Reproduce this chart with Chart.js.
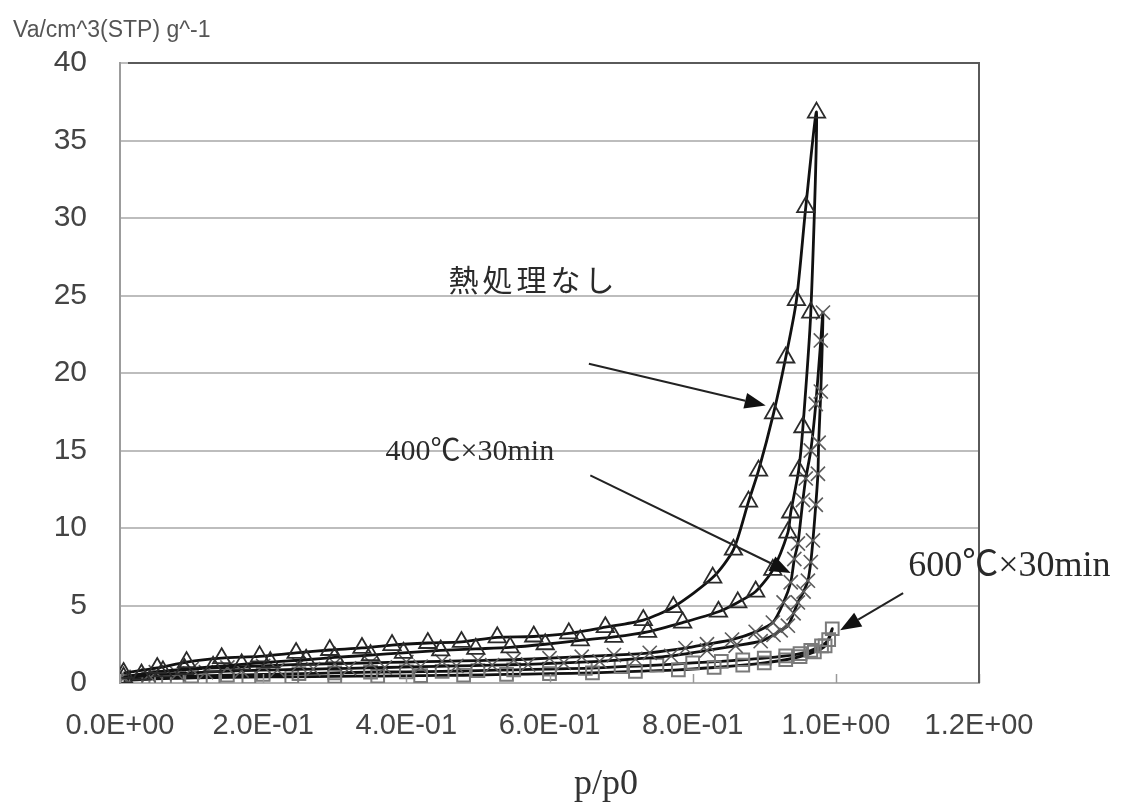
<!DOCTYPE html>
<html>
<head>
<meta charset="utf-8">
<script src="https://cdn.jsdelivr.net/npm/chart.js@4.4.1/dist/chart.umd.min.js"></script>
<style>
  html, body { margin: 0; padding: 0; background: #ffffff; }
  canvas { display: block; }
</style>
</head>
<body>
<canvas id="iso" width="1121" height="812"></canvas>
<script>
// Nitrogen isotherms, relative pressure p/p0 vs adsorbed volume Va (cm^3(STP)/g)
// Each sample: adsorption branch (rising p) followed by desorption branch (falling p)

// 熱処理なし
const untreatedAdsP = [0.005, 0.03, 0.06, 0.09, 0.13, 0.17, 0.21, 0.26, 0.30, 0.35, 0.396, 0.448, 0.497, 0.545, 0.594, 0.643, 0.69, 0.737, 0.786, 0.836, 0.863, 0.888, 0.912, 0.933, 0.937, 0.948, 0.954, 0.965, 0.973];
const untreatedAdsV = [0.35, 0.55, 0.75, 0.9, 1.05, 1.2, 1.35, 1.5, 1.65, 1.8, 1.95, 2.1, 2.2, 2.3, 2.5, 2.75, 2.97, 3.3, 3.9, 4.6, 5.2, 5.9, 7.3, 9.7, 11.0, 13.7, 16.5, 23.9, 36.8];
const untreatedDesP = [0.958, 0.945, 0.93, 0.913, 0.892, 0.878, 0.857, 0.828, 0.773, 0.731, 0.678, 0.627, 0.578, 0.527, 0.477, 0.43, 0.38, 0.338, 0.293, 0.246, 0.195, 0.142, 0.093, 0.052, 0.005];
const untreatedDesV = [30.7, 24.7, 21.0, 17.4, 13.7, 11.7, 8.6, 6.8, 4.9, 4.06, 3.6, 3.2, 3.0, 2.95, 2.65, 2.58, 2.45, 2.26, 2.13, 1.94, 1.72, 1.6, 1.35, 0.97, 0.65];

// 400℃×30min
const heat400AdsP = [0.005, 0.04, 0.08, 0.12, 0.17, 0.22, 0.27, 0.32, 0.37, 0.42, 0.47, 0.52, 0.57, 0.62, 0.67, 0.72, 0.77, 0.82, 0.86, 0.895, 0.913, 0.923, 0.933, 0.941, 0.947, 0.955, 0.961, 0.965, 0.968, 0.972, 0.975, 0.976, 0.979, 0.982];
const heat400AdsV = [0.3, 0.5, 0.6, 0.7, 0.8, 0.85, 0.9, 0.95, 1.0, 1.05, 1.1, 1.15, 1.2, 1.3, 1.4, 1.55, 1.75, 2.1, 2.4, 2.7, 3.1, 3.4, 3.7, 4.5, 5.2, 5.9, 6.6, 7.8, 9.2, 11.5, 13.5, 15.5, 18.8, 23.9];
const heat400DesP = [0.979, 0.972, 0.965, 0.958, 0.954, 0.947, 0.942, 0.937, 0.927, 0.912, 0.888, 0.855, 0.82, 0.79, 0.74, 0.69, 0.645, 0.6, 0.55, 0.5, 0.45, 0.4, 0.35, 0.3, 0.25, 0.2, 0.15, 0.1, 0.05, 0.005];
const heat400DesV = [22.1, 18.0, 15.0, 13.2, 11.8, 9.0, 8.0, 6.5, 5.2, 3.9, 3.3, 2.8, 2.5, 2.25, 1.95, 1.8, 1.7, 1.6, 1.5, 1.45, 1.4, 1.35, 1.3, 1.25, 1.2, 1.1, 1.0, 0.9, 0.7, 0.4];

// 600℃×30min
const heat600AdsP = [0.005, 0.04, 0.08, 0.13, 0.18, 0.24, 0.3, 0.36, 0.42, 0.48, 0.54, 0.6, 0.66, 0.72, 0.78, 0.83, 0.87, 0.9, 0.93, 0.95, 0.97, 0.985, 0.995];
const heat600AdsV = [0.15, 0.25, 0.3, 0.35, 0.38, 0.4, 0.43, 0.45, 0.48, 0.5, 0.55, 0.6, 0.65, 0.75, 0.85, 1.0, 1.15, 1.3, 1.5, 1.7, 2.0, 2.4, 3.5];
const heat600DesP = [0.99, 0.98, 0.965, 0.95, 0.93, 0.9, 0.87, 0.84, 0.8, 0.75, 0.7, 0.65, 0.6, 0.55, 0.5, 0.45, 0.4, 0.35, 0.3, 0.25, 0.2, 0.15, 0.1, 0.05, 0.005];
const heat600DesV = [2.8, 2.4, 2.1, 1.9, 1.75, 1.6, 1.5, 1.4, 1.3, 1.15, 1.05, 0.95, 0.9, 0.85, 0.8, 0.75, 0.72, 0.7, 0.65, 0.6, 0.55, 0.5, 0.45, 0.35, 0.2];

// Axis ticks
const xTicks = [0, 0.2, 0.4, 0.6, 0.8, 1.0, 1.2];
const yTicks = [0, 5, 10, 15, 20, 25, 30, 35, 40];

// Labels with their arrows, positioned in data units (p/p0, Va)
const labelTexts = ['熱処理なし', '400℃×30min', '600℃×30min'];
const labelAnchors = [[0.459, 26.0], [0.371, 14.9], [1.101, 7.5]];
const arrowFrom = [[0.655, 20.6], [0.657, 13.4], [1.094, 5.8]];
const arrowTo = [[0.902, 17.9], [0.937, 7.1], [1.006, 3.4]];

function toPoints(ps, vs) { return ps.map((p, i) => ({ x: p, y: vs[i] })); }
function loop(aP, aV, dP, dV) { return toPoints(aP, aV).concat(toPoints(dP, dV)); }

function sci(v) {
  if (Math.abs(v) < 1e-12) return '0.0E+00';
  const e = Math.floor(Math.log10(Math.abs(v)) + 1e-9);
  const m = v / Math.pow(10, e);
  return m.toFixed(1) + 'E' + (e < 0 ? '-' : '+') + String(Math.abs(e)).padStart(2, '0');
}

const lineColor = '#111111';

const overlay = {
  id: 'overlay',
  afterDraw(chart) {
    const { ctx, chartArea: a, scales: { x, y } } = chart;
    ctx.save();

    // inward tick marks on the p/p0 axis
    ctx.strokeStyle = '#9a9a9a';
    ctx.lineWidth = 1.5;
    xTicks.forEach(t => {
      const px = Math.round(x.getPixelForValue(t)) + 0.5;
      ctx.beginPath();
      ctx.moveTo(px, a.bottom);
      ctx.lineTo(px, a.bottom - 9);
      ctx.stroke();
    });

    // right and top frame
    ctx.strokeStyle = '#5a5a5a';
    ctx.lineWidth = 2;
    ctx.beginPath();
    ctx.moveTo(a.left + 8, a.top);
    ctx.lineTo(a.right, a.top);
    ctx.lineTo(a.right, a.bottom);
    ctx.stroke();

    // axis titles
    ctx.fillStyle = '#555555';
    ctx.font = '23px "Liberation Sans", Arial, sans-serif';
    ctx.textAlign = 'left';
    ctx.textBaseline = 'middle';
    ctx.fillText('Va/cm^3(STP) g^-1', 13, 31);

    ctx.fillStyle = '#333333';
    ctx.font = '36px "Liberation Serif", "Times New Roman", serif';
    ctx.textAlign = 'center';
    ctx.fillText('p/p0', 606, 785);

    // series labels
    const fonts = [
      '30px "Noto Sans CJK JP", sans-serif',
      '30px "Liberation Serif", "Noto Sans CJK JP", serif',
      '36px "Liberation Serif", "Noto Sans CJK JP", serif'
    ];
    ctx.fillStyle = '#2a2a2a';
    ctx.textAlign = 'left';
    labelTexts.forEach((txt, i) => {
      ctx.font = fonts[i];
      ctx.letterSpacing = i === 0 ? '4px' : '0px';
      ctx.fillText(txt, x.getPixelForValue(labelAnchors[i][0]), y.getPixelForValue(labelAnchors[i][1]));
    });
    ctx.letterSpacing = '0px';

    // arrows
    ctx.strokeStyle = '#222222';
    ctx.fillStyle = '#111111';
    ctx.lineWidth = 2;
    arrowFrom.forEach((f, i) => {
      const x0 = x.getPixelForValue(f[0]), y0 = y.getPixelForValue(f[1]);
      const x1 = x.getPixelForValue(arrowTo[i][0]), y1 = y.getPixelForValue(arrowTo[i][1]);
      const ang = Math.atan2(y1 - y0, x1 - x0);
      const len = 21, half = 8;
      const bx = x1 - len * Math.cos(ang), by = y1 - len * Math.sin(ang);
      ctx.beginPath();
      ctx.moveTo(x0, y0);
      ctx.lineTo(bx, by);
      ctx.stroke();
      ctx.beginPath();
      ctx.moveTo(x1, y1);
      ctx.lineTo(bx + half * Math.sin(ang), by - half * Math.cos(ang));
      ctx.lineTo(bx - half * Math.sin(ang), by + half * Math.cos(ang));
      ctx.closePath();
      ctx.fill();
    });
    ctx.restore();
  }
};

new Chart(document.getElementById('iso'), {
  type: 'scatter',
  data: {
    datasets: [
      {
        label: '熱処理なし',
        data: loop(untreatedAdsP, untreatedAdsV, untreatedDesP, untreatedDesV),
        showLine: true,
        borderColor: lineColor,
        borderWidth: 2.8,
        tension: 0.25,
        pointStyle: 'triangle',
        pointRadius: 10,
        pointBorderWidth: 1.8,
        pointBorderColor: '#2b2b2b',
        pointBackgroundColor: 'rgba(0,0,0,0)'
      },
      {
        label: '400℃×30min',
        data: loop(heat400AdsP, heat400AdsV, heat400DesP, heat400DesV),
        showLine: true,
        borderColor: lineColor,
        borderWidth: 2.8,
        tension: 0.25,
        pointStyle: 'crossRot',
        pointRadius: 10,
        pointBorderWidth: 1.6,
        pointBorderColor: '#5c5c5c',
        pointBackgroundColor: 'rgba(0,0,0,0)'
      },
      {
        label: '600℃×30min',
        data: loop(heat600AdsP, heat600AdsV, heat600DesP, heat600DesV),
        showLine: true,
        borderColor: lineColor,
        borderWidth: 2.8,
        tension: 0.25,
        pointStyle: 'rect',
        pointRadius: 9,
        pointBorderWidth: 2,
        pointBorderColor: '#7a7a7a',
        pointBackgroundColor: 'rgba(0,0,0,0)'
      }
    ]
  },
  options: {
    responsive: false,
    animation: false,
    devicePixelRatio: 1,
    layout: { padding: { left: 0, top: 63, right: 142, bottom: 0 } },
    plugins: {
      legend: { display: false },
      tooltip: { enabled: false }
    },
    scales: {
      x: {
        type: 'linear',
        min: 0,
        max: 1.2,
        afterFit(scale) { scale.height = 129; },
        afterBuildTicks(scale) { scale.ticks = xTicks.map(v => ({ value: v })); },
        grid: { display: false, drawTicks: false },
        border: { display: true, color: '#b0b0b0', width: 2 },
        ticks: {
          padding: 26,
          color: '#444444',
          font: { family: '"Liberation Sans", Arial, sans-serif', size: 29 },
          maxRotation: 0,
          autoSkip: false,
          callback: v => sci(v)
        }
      },
      y: {
        type: 'linear',
        min: 0,
        max: 40,
        afterFit(scale) { scale.width = 120; },
        afterBuildTicks(scale) { scale.ticks = yTicks.map(v => ({ value: v })); },
        grid: {
          color: '#bdbdbd',
          lineWidth: 2,
          drawTicks: false
        },
        border: { display: true, color: '#9c9c9c', width: 2 },
        ticks: {
          padding: 33,
          color: '#444444',
          font: { family: '"Liberation Sans", Arial, sans-serif', size: 30 },
          autoSkip: false,
          callback: v => String(v)
        }
      }
    }
  },
  plugins: [overlay]
});
</script>
</body>
</html>
